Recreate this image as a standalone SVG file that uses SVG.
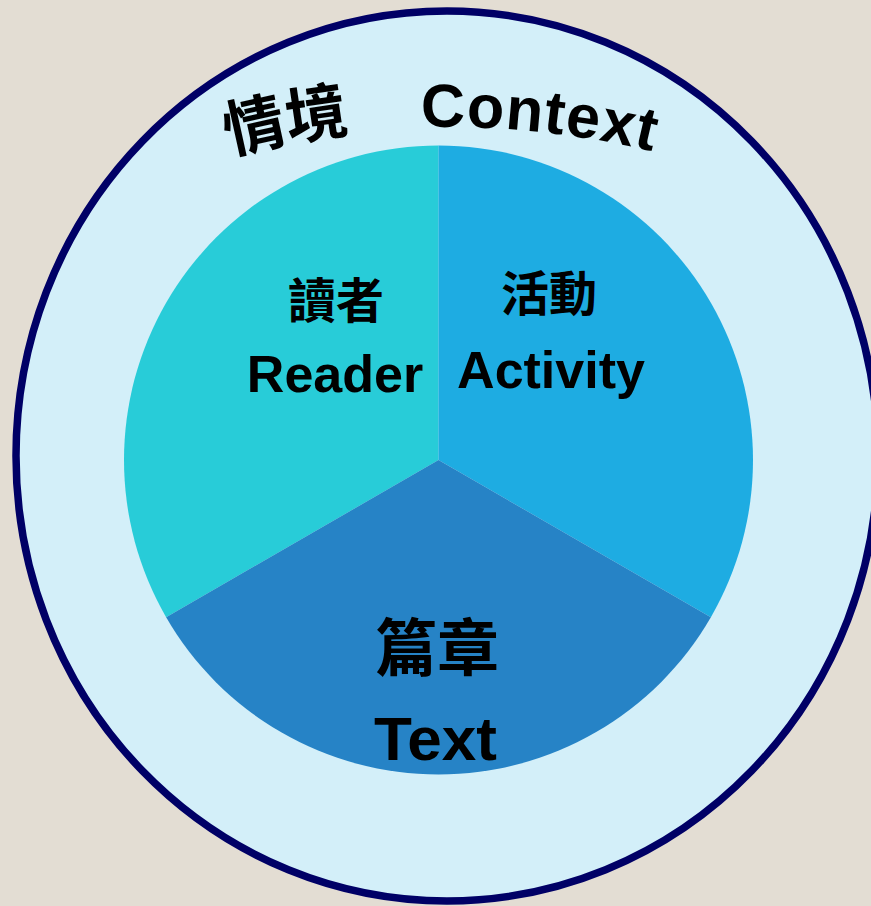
<svg xmlns="http://www.w3.org/2000/svg" width="871" height="906" viewBox="0 0 871 906">
  <style>
    .cjk { font-family: "Noto Sans CJK TC", "Noto Sans CJK SC", sans-serif; font-weight: bold; fill: #000; }
    .lat { font-family: "Liberation Sans", Arial, sans-serif; font-weight: bold; fill: #000; }
    .mid { text-anchor: middle; }
  </style>
  <defs>
    <path id="arc" d="M 78 208.8 A 873 873 0 0 1 816 208.8"/>
  </defs>
  <rect x="0" y="0" width="871" height="906" fill="#E3DDD3"/>
  <g id="context">
    <ellipse cx="447" cy="456" rx="431" ry="445" fill="#D3EFF9" stroke="#000066" stroke-width="7.5"/>
    <text class="cjk" font-size="62"><textPath href="#arc" startOffset="160">情境</textPath></text>
    <text class="lat" font-size="61" letter-spacing="1"><textPath href="#arc" startOffset="355">Context</textPath></text>
  </g>
  <g id="reader">
    <path d="M 438.5 460 L 438.5 145.5 A 314.5 314.5 0 0 0 166.14 617.25 Z" fill="#28CCD8"/>
    <text class="cjk mid" x="336" y="318" font-size="48">讀者</text>
    <text class="lat mid" x="335" y="392" font-size="52">Reader</text>
  </g>
  <g id="activity">
    <path d="M 438.5 460 L 438.5 145.5 A 314.5 314.5 0 0 1 710.86 617.25 Z" fill="#1EACE2"/>
    <text class="cjk mid" x="549" y="311" font-size="48">活動</text>
    <text class="lat mid" x="551" y="388" font-size="52">Activity</text>
  </g>
  <g id="text">
    <path d="M 438.5 460 L 166.14 617.25 A 314.5 314.5 0 0 0 710.86 617.25 Z" fill="#2683C6"/>
    <text class="cjk mid" x="437" y="671" font-size="62">篇章</text>
    <text class="lat mid" x="435.5" y="760" font-size="62" textLength="123" lengthAdjust="spacingAndGlyphs">Text</text>
  </g>
  <g id="connectors"/>
</svg>
